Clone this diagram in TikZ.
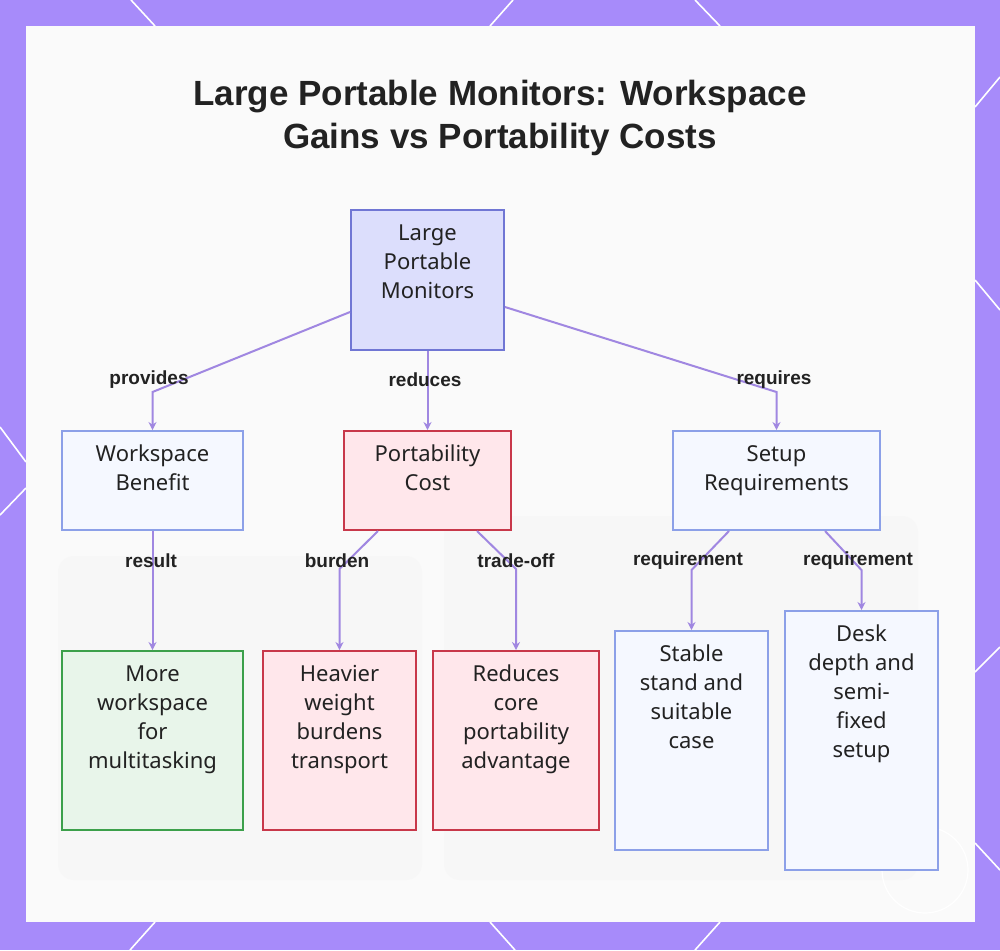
\documentclass[tikz,border=0pt]{standalone}
\usepackage{fontspec}
\setmainfont{Noto Sans}
\newfontfamily\headfont{Liberation Sans}
\usetikzlibrary{arrows.meta}
\definecolor{frame}{RGB}{167,139,250}
\definecolor{panel}{RGB}{250,250,250}
\definecolor{ink}{RGB}{34,34,34}
\definecolor{linkc}{RGB}{160,135,225}
\definecolor{rootfill}{RGB}{220,222,252}
\definecolor{rootline}{RGB}{112,118,212}
\definecolor{bluefill}{RGB}{245,248,255}
\definecolor{blueline}{RGB}{140,160,232}
\definecolor{redfill}{RGB}{255,231,235}
\definecolor{redline}{RGB}{200,56,74}
\definecolor{greenfill}{RGB}{232,245,234}
\definecolor{greenline}{RGB}{60,160,75}
\tikzstyle{box} = [align=center,rectangle,anchor=north,line width=1pt,inner xsep=2pt,inner ysep=0pt,text=ink,font=\fontsize{11}{14.5}\selectfont]
\tikzstyle{hub} = [box,draw=rootline,fill=rootfill]
\tikzstyle{plain} = [box,draw=blueline,fill=bluefill]
\tikzstyle{cost} = [box,draw=redline,fill=redfill]
\tikzstyle{gain} = [box,draw=greenline,fill=greenfill]
\tikzstyle{tag} = [text=ink,font=\headfont\bfseries\fontsize{9.5}{11}\selectfont]
\tikzstyle{link} = [draw=linkc,line width=1pt,-{Stealth[length=4pt,width=4pt]}]

\begin{document}
\begin{tikzpicture}[x=0.5pt,y=-0.5pt]
				\useasboundingbox (0,0) rectangle (1000,950);
				\fill [frame] (0,0) rectangle (1000,950);
				\draw [white,line width=0.8pt] (131,0) -- (155,26) (513,0) -- (490,26) (695,0) -- (720,26)
					(155,922) -- (130,950) (490,922) -- (515,950) (720,922) -- (695,950)
					(0,427) -- (26,462) (26,488) -- (0,515)
					(1000,77) -- (975,107) (975,280) -- (1000,310) (1000,647) -- (975,672) (975,843) -- (1000,870);
				\fill [panel] (26,26) rectangle (975,922);
				\fill [black!3,rounded corners=8pt] (58,556) rectangle (422,880);
				\fill [black!3,rounded corners=8pt] (444,516) rectangle (918,880);
				\draw [white,line width=0.6pt] (925,870) circle (21.5pt);
				\node (title) [align=center,text=ink,font=\headfont\bfseries\fontsize{17.5}{21.5}\selectfont] at (500,118) {Large Portable Monitors: Workspace\\Gains vs Portability Costs};
				\node (root) [hub,minimum width=76.5pt,text height=44pt,text depth=26pt] at (427.5,209) {Large\\Portable\\Monitors};
				\node (ws) [plain,minimum width=90.5pt,text height=29.5pt,text depth=20pt] at (152.5,430) {Workspace\\Benefit};
				\node (pc) [cost,minimum width=83.5pt,text height=29.5pt,text depth=20pt] at (427.5,430) {Portability\\Cost};
				\node (sr) [plain,minimum width=103.5pt,text height=29.5pt,text depth=20pt] at (776.5,430) {Setup\\Requirements};
				\node (more) [gain,minimum width=90.5pt,text height=58.5pt,text depth=31pt] at (152.5,650) {More\\workspace\\for\\multitasking};
				\node (heavy) [cost,minimum width=76.5pt,text height=58.5pt,text depth=31pt] at (339.5,650) {Heavier\\weight\\burdens\\transport};
				\node (core) [cost,minimum width=83pt,text height=58.5pt,text depth=31pt] at (516,650) {Reduces\\core\\portability\\advantage};
				\node (stand) [plain,minimum width=76.5pt,text height=58.5pt,text depth=51pt] at (691.5,630) {Stable\\stand and\\suitable\\case};
				\node (desk) [plain,minimum width=76.5pt,text height=73pt,text depth=56.5pt] at (861.5,610) {Desk\\depth and\\semi-\\fixed\\setup};
				\draw [link] ([yshift=-16pt]root.west) -- ([yshift=19pt]ws.north) -- (ws.north);
				\draw [link] (root.south) -- (pc.north);
				\draw [link] ([yshift=-13.5pt]root.east) -- ([yshift=19pt]sr.north) -- (sr.north);
				\draw [link] (ws.south) -- (more.north);
				\draw [link] ([xshift=-24.75pt]pc.south) -- ([yshift=40.5pt]heavy.north) -- (heavy.north);
				\draw [link] ([xshift=24.75pt]pc.south) -- ([yshift=40.5pt]core.north) -- (core.north);
				\draw [link] ([xshift=-23.75pt]sr.south) -- ([yshift=30pt]stand.north) -- (stand.north);
				\draw [link] ([xshift=24.25pt]sr.south) -- ([yshift=20pt]desk.north) -- (desk.north);
				\node (t1) [tag] at (149,380) {provides};
				\node (t2) [tag] at (425,380) {reduces};
				\node (t3) [tag] at (774,380) {requires};
				\node (t4) [tag] at (151,561) {result};
				\node (t5) [tag] at (337,561) {burden};
				\node (t6) [tag] at (516,561) {trade-off};
				\node (t7) [tag] at (688,561) {requirement};
				\node (t8) [tag] at (858,561) {requirement};
			\end{tikzpicture}
\end{document}
